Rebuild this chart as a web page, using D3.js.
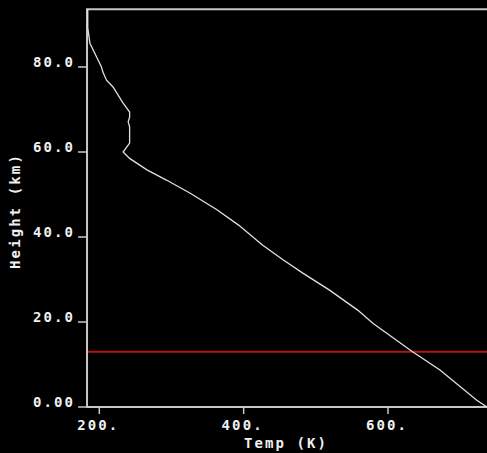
<!DOCTYPE html>
<html>
<head>
<meta charset="utf-8">
<script src="https://cdn.jsdelivr.net/npm/d3@7"></script>
<style>
  html, body { margin: 0; padding: 0; background: #000; overflow: hidden; }
  text { font-family: "DejaVu Sans Mono", monospace; font-weight: bold; fill: #f0f0f0; }
</style>
</head>
<body>
<div class="canva"></div>
<script>
// temperature profile
var heights = [93.6, 89.2, 85.6, 80.0, 78.8, 76.9, 75.3, 71.5, 69.4, 68.2, 67.1, 65.9, 62.1, 60.0,
               58.5, 55.8, 53.4, 50.3, 46.4, 42.8, 38.1, 34.6, 31.5, 27.5, 22.8, 19.7, 13.0, 8.7, 1.6, 0.0];
var temps   = [184, 184, 187, 203, 205, 210, 219, 233, 242, 242, 240, 242, 242, 233,
               242, 266, 293, 326, 363, 393, 426, 455, 482, 519, 558, 579, 634, 672, 723, 737];
var xTicks = [200, 400, 600];
var yTicks = [0, 20, 40, 60, 80];
var yTickLabels = ["0.00", "20.0", "40.0", "60.0", "80.0"];
var markerHeight = 13.0;

const width = 487, height = 453;
const svg = d3.select(".canva").append("svg")
              .attr("width", width)
              .attr("height", height);

const x = d3.scaleLinear().domain([200, 600]).range([99.3, 388]);
const y = d3.scaleLinear().domain([0, 80]).range([407, 67]);

const xMin = 183, xMax = 742, yMax = 93.6;

// frame: left, top, bottom
svg.append("path")
   .attr("d", "M" + x(xMax) + "," + y(yMax) + "H" + x(xMin) + "V" + y(0) + "H" + x(xMax))
   .attr("fill", "none")
   .attr("stroke", "#c8c8c8")
   .attr("stroke-width", 2);

// ticks
svg.selectAll(".ytick").data(yTicks).enter().append("line")
   .attr("x1", x(xMin) - 9).attr("x2", x(xMin))
   .attr("y1", function(d){ return y(d) }).attr("y2", function(d){ return y(d) })
   .attr("stroke", "#c8c8c8").attr("stroke-width", 1.5);

svg.selectAll(".xtick").data(xTicks).enter().append("line")
   .attr("x1", function(d){ return x(d) }).attr("x2", function(d){ return x(d) })
   .attr("y1", y(0)).attr("y2", y(0) + 7)
   .attr("stroke", "#c8c8c8").attr("stroke-width", 1.5);

// tick labels
svg.selectAll(".ylab").data(yTicks).enter().append("text")
   .attr("x", 75)
   .attr("y", function(d){ return y(d) })
   .attr("text-anchor", "end")
   .attr("font-size", 14)
   .attr("letter-spacing", 2.1)
   .text(function(d, i){ return yTickLabels[i] });

svg.selectAll(".xlab").data(xTicks).enter().append("text")
   .attr("x", function(d){ return x(d) - 1 })
   .attr("y", 430)
   .attr("text-anchor", "middle")
   .attr("font-size", 14)
   .attr("letter-spacing", 2.1)
   .text(function(d){ return d + "." });

// axis titles
svg.append("text")
   .attr("x", 286).attr("y", 448)
   .attr("text-anchor", "middle")
   .attr("font-size", 14)
   .attr("letter-spacing", 2.1)
   .text("Temp (K)");

svg.append("text")
   .attr("transform", "translate(20,211) rotate(-90)")
   .attr("text-anchor", "middle")
   .attr("font-size", 14)
   .attr("letter-spacing", 2.1)
   .text("Height (km)");

// red marker line
svg.append("line")
   .attr("x1", x(xMin) + 1).attr("x2", x(xMax))
   .attr("y1", y(markerHeight)).attr("y2", y(markerHeight))
   .attr("stroke", "#b01818").attr("stroke-width", 2);

// profile
const line = d3.line()
   .x(function(d, i){ return x(temps[i]) })
   .y(function(d){ return y(d) });

svg.append("path")
   .datum(heights)
   .attr("d", line)
   .attr("fill", "none")
   .attr("stroke", "#e0e0e0")
   .attr("stroke-width", 1.3);
</script>
</body>
</html>
